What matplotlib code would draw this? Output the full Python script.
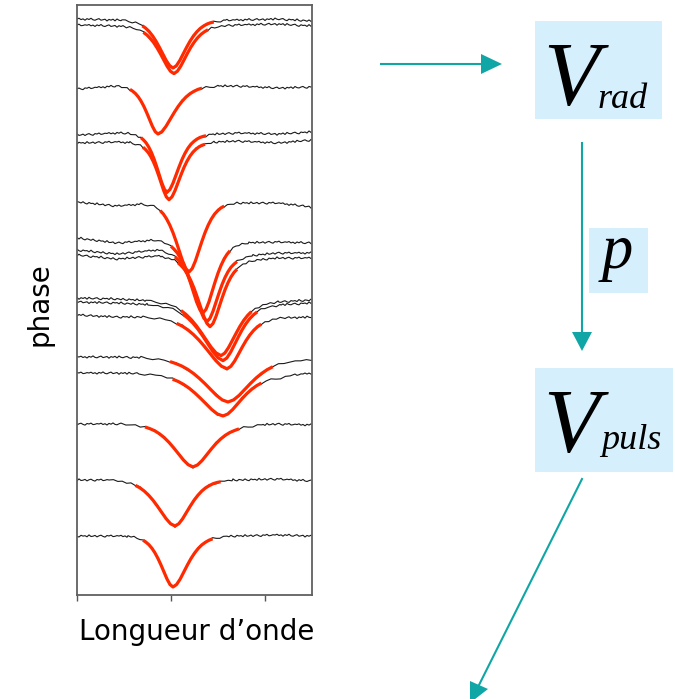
import matplotlib
matplotlib.use("Agg")
import matplotlib.pyplot as plt
import numpy as np
from matplotlib.patches import Rectangle, Polygon

# continuum knots along the wavelength axis (arbitrary units, axis spans 0..235)
knots = [0, 40, 80, 120, 160, 200, 235]

# one spectrum per phase, top to bottom
centers = [96, 97, 81, 90, 92, 112, 126, 130, 133, 144, 146, 150, 151, 146, 116, 98, 96]
depths = [47, 46, 48, 58, 56, 69, 69, 66, 66, 52, 54, 49, 42, 40, 42, 45, 50]
hw_left = [17, 17, 14, 13, 13, 16, 16, 16, 16, 25, 25, 28, 29, 28, 24, 22, 15]
hw_right = [17, 17, 20, 15, 15, 16, 15, 15, 15, 19, 19, 19, 28, 24, 23, 19, 18]
red_lo = [65, 65, 52, 63, 65, 81, 93, 96, 98, 103, 105, 98, 93, 91, 68, 58, 66]
red_hi = [138, 131, 128, 130, 128, 150, 153, 160, 161, 178, 181, 186, 196, 188, 163, 145, 138]
continua = [
    [19, 20, 21, 21, 20, 19, 21],
    [25, 26, 28, 27, 25, 24, 26],
    [89, 86, 86, 86, 86, 88, 87],
    [135, 133, 134, 135, 133, 134, 132],
    [143, 142, 144, 143, 141, 143, 140],
    [202, 206, 203, 203, 203, 203, 207],
    [238, 243, 240, 244, 243, 242, 243],
    [250, 254, 250, 255, 257, 253, 253],
    [255, 259, 256, 260, 262, 258, 258],
    [298, 299, 301, 303, 304, 302, 300],
    [302, 303, 305, 306, 307, 305, 303],
    [315, 317, 317, 319, 320, 318, 317],
    [357, 357, 358, 360, 360, 360, 360],
    [373, 373, 374, 376, 376, 377, 373],
    [424, 424, 424, 425, 426, 424, 425],
    [480, 480, 481, 481, 480, 479, 481],
    [536, 536, 537, 537, 536, 535, 536],
]

# line profile shape: depth fraction vs distance in half-widths
prof_u = [0.0, 0.2, 0.4, 0.6, 0.8, 1.0, 1.2, 1.4, 1.6, 1.8, 2.0, 2.2, 2.4, 2.6, 2.8, 3.0]
prof_depth = [1.0, 0.95, 0.84, 0.70, 0.56, 0.43, 0.32, 0.23, 0.16, 0.11, 0.07, 0.045, 0.03, 0.02, 0.01, 0.0]

# photon noise on the continuum
noise = [0.0, -0.8, 0.5, -0.3, 1.0, -0.6, 0.2, -1.1, 0.4, 0.8, -0.2, -0.9, 0.6, 0.1, -0.5,
         1.2, -0.4, 0.3, -0.7, 0.9, -1.0, 0.2, 0.6, -0.3, -0.8, 0.5, 1.1, -0.6, 0.0, -0.4,
         0.7, -1.2, 0.3, 0.9, -0.5, -0.1, 0.6, -0.9, 0.4, 1.0, -0.7, 0.1, -0.3, 0.8, -1.1,
         0.5, 0.2, -0.6, 0.9, -0.2, -0.8, 0.4, 1.1, -0.5, 0.0, -0.9, 0.6, 0.3, -0.4]

W, H = 675, 699
fig = plt.figure(figsize=(W / 100, H / 100), dpi=100)

ax = fig.add_axes([77 / W, 1 - 595 / H, 235 / W, 590 / H])
ax.set_xlim(0, 235)
ax.set_ylim(595, 5)

grid = np.arange(0, 236, 2)
u = np.array(prof_u)
d = np.array(prof_depth)

for i in range(len(centers)):
    c, dep, hl, hr = centers[i], depths[i], hw_left[i], hw_right[i]
    xs = np.concatenate([c - u[::-1] * hl, c + u[1:] * hr])
    ds = np.concatenate([d[::-1], d[1:]])
    ys = np.interp(xs, knots, continua[i]) + dep * ds

    # black spectrum: noisy continuum, then the line, then continuum again
    left = grid < xs[0]
    right = grid > xs[-1]
    bx = np.concatenate([grid[left], xs, grid[right]])
    by = np.concatenate([np.interp(grid[left], knots, continua[i]), ys,
                         np.interp(grid[right], knots, continua[i])])
    nz = np.resize(np.roll(noise, 5 * i), len(bx))
    ax.plot(bx, by + nz, color='#1a1a1a', lw=0.8, zorder=2)

    # red fit over the line core
    keep = (xs >= red_lo[i]) & (xs <= red_hi[i])
    ax.plot(xs[keep], ys[keep], color='#ff2a00', lw=2.3, zorder=3,
            solid_capstyle='butt', solid_joinstyle='round')

ax.set_xticks([0, 94, 188])
ax.set_xticklabels([])
ax.set_yticks([])
ax.tick_params(axis='x', direction='out', length=4, width=1, color='#555555')
for s in ax.spines.values():
    s.set_color('#606060')
    s.set_linewidth(1.3)

fig.text(197 / W, 1 - 632 / H, 'Longueur d\u2019onde', ha='center', va='center',
         fontsize=20, family='DejaVu Sans')
fig.text(40 / W, 1 - 304 / H, 'phase', ha='center', va='center', rotation=90,
         fontsize=20, family='DejaVu Sans')

# diagram on the right, in pixel coordinates
ov = fig.add_axes([0, 0, 1, 1])
ov.set_xlim(0, W)
ov.set_ylim(H, 0)
ov.axis('off')

teal = '#10a6a6'
box = '#d5effc'
ov.add_patch(Rectangle((535, 21), 127, 98, color=box, lw=0))
ov.add_patch(Rectangle((589, 228), 59, 65, color=box, lw=0))
ov.add_patch(Rectangle((535, 368), 138, 104, color=box, lw=0))

serif = dict(family='Liberation Serif', style='italic', color='black')
ov.text(571, 105, 'V', ha='center', va='baseline', fontsize=66, **serif)
ov.text(623, 108, 'rad', ha='center', va='baseline', fontsize=26, **serif)
ov.text(617, 268, 'p', ha='center', va='baseline', fontsize=45, **serif)
ov.text(571, 452, 'V', ha='center', va='baseline', fontsize=66, **serif)
ov.text(631, 449, 'puls', ha='center', va='baseline', fontsize=26, **serif)

# arrows
ov.plot([381, 482], [64, 64], color=teal, lw=1.5)
ov.add_patch(Polygon([(481, 54), (481, 74), (502, 64)], closed=True, color=teal, lw=0))
ov.plot([582, 582], [143, 333], color=teal, lw=1.5)
ov.add_patch(Polygon([(572, 332), (592, 332), (582, 351)], closed=True, color=teal, lw=0))
ov.plot([582, 479], [479, 685], color=teal, lw=1.5)
ov.add_patch(Polygon([(470, 681), (488, 689), (470, 703)], closed=True, color=teal, lw=0))

fig.savefig('out.png', dpi=100)
